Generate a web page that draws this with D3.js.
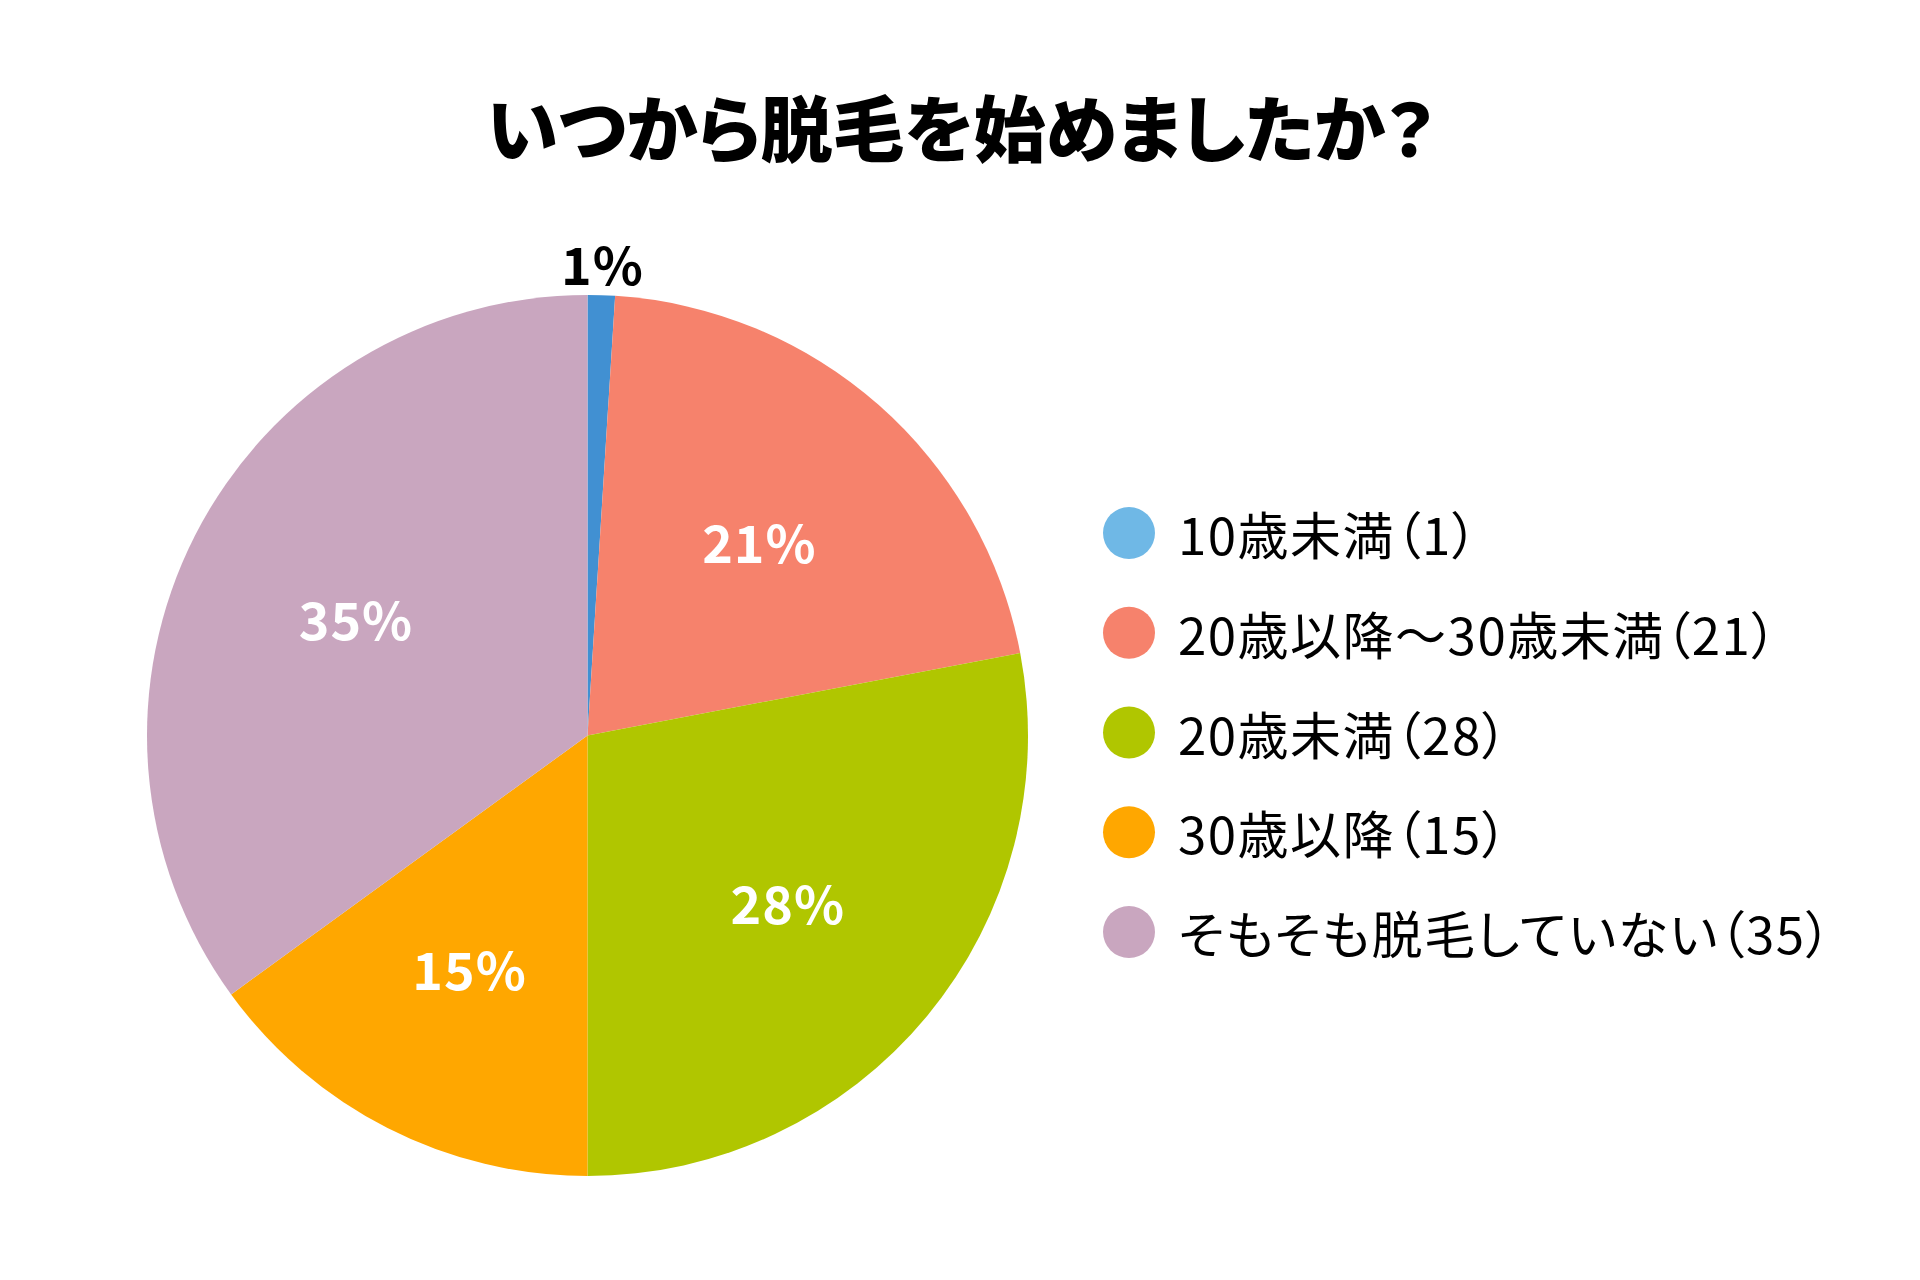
<!DOCTYPE html>
<html>
<head>
<meta charset="utf-8">
<script src="https://cdn.jsdelivr.net/npm/d3@7"></script>
<style>
  html, body { margin: 0; padding: 0; background: #ffffff; }
  svg { display: block; }
  .palt { font-feature-settings: "palt" 1; }
</style>
</head>
<body>
<svg id="chart" width="1920" height="1280"></svg>
<script>
const title = "いつから脱毛を始めましたか？";
const categories = ["10歳未満", "20歳以降〜30歳未満", "20歳未満", "30歳以降", "そもそも脱毛していない"];
const values = [1, 21, 28, 15, 35];
const sliceColors = ["#4190d2", "#f6826c", "#b0c600", "#ffa700", "#c9a6bf"];
const legendColors = ["#6fb8e6", "#f6826c", "#b0c600", "#ffa700", "#c9a6bf"];

const font = "'Noto Sans CJK JP', 'Noto Sans', sans-serif";
const svg = d3.select("#chart");

svg.append("text")
  .attr("class", "palt")
  .attr("x", 961).attr("y", 156)
  .attr("text-anchor", "middle")
  .attr("font-family", font)
  .attr("font-weight", 900)
  .attr("font-size", 72)
  .attr("fill", "#000")
  .text(title);

const cx = 587.5, cy = 735.5, R = 440.5;
const data = categories.map((c, i) => ({ name: c, value: values[i], i }));
const total = d3.sum(values);

const pie = d3.pie().sort(null).value(d => d.value);
const arcs = pie(data);
const arc = d3.arc().innerRadius(0).outerRadius(R);
const labelArc = d3.arc().innerRadius(R * 0.59).outerRadius(R * 0.59);
const outerLabelArc = d3.arc().innerRadius(R + 33).outerRadius(R + 33);

const g = svg.append("g").attr("transform", `translate(${cx},${cy})`);
g.selectAll("path.slice").data(arcs).join("path")
  .attr("class", "slice")
  .attr("d", arc)
  .attr("fill", d => sliceColors[d.data.i]);

g.selectAll("text.pct").data(arcs).join("text")
  .attr("class", "pct")
  .attr("transform", d => {
    const small = d.data.value / total < 0.05;
    const [x, y] = (small ? outerLabelArc : labelArc).centroid(d);
    return `translate(${x},${y})`;
  })
  .attr("text-anchor", "middle")
  .attr("dominant-baseline", "central")
  .attr("font-family", font)
  .attr("font-weight", 700)
  .attr("font-size", 52)
  .attr("letter-spacing", 1)
  .attr("fill", d => d.data.value / total < 0.05 ? "#000" : "#fff")
  .text(d => Math.round(d.data.value / total * 100) + "%");

const legendY = d3.scalePoint().domain(categories).range([533, 932]);
const lg = svg.append("g");
const items = lg.selectAll("g.item").data(data).join("g")
  .attr("class", "item")
  .attr("transform", d => `translate(1129,${legendY(d.name)})`);
items.append("circle").attr("r", 26).attr("fill", d => legendColors[d.i]);
items.append("text")
  .attr("class", "palt")
  .attr("x", 49)
  .attr("dominant-baseline", "central")
  .attr("font-family", font)
  .attr("font-weight", 400)
  .attr("font-size", 51)
  .attr("letter-spacing", 1.5)
  .attr("fill", "#000")
  .text(d => `${d.name}（${d.value}）`);
</script>
</body>
</html>
